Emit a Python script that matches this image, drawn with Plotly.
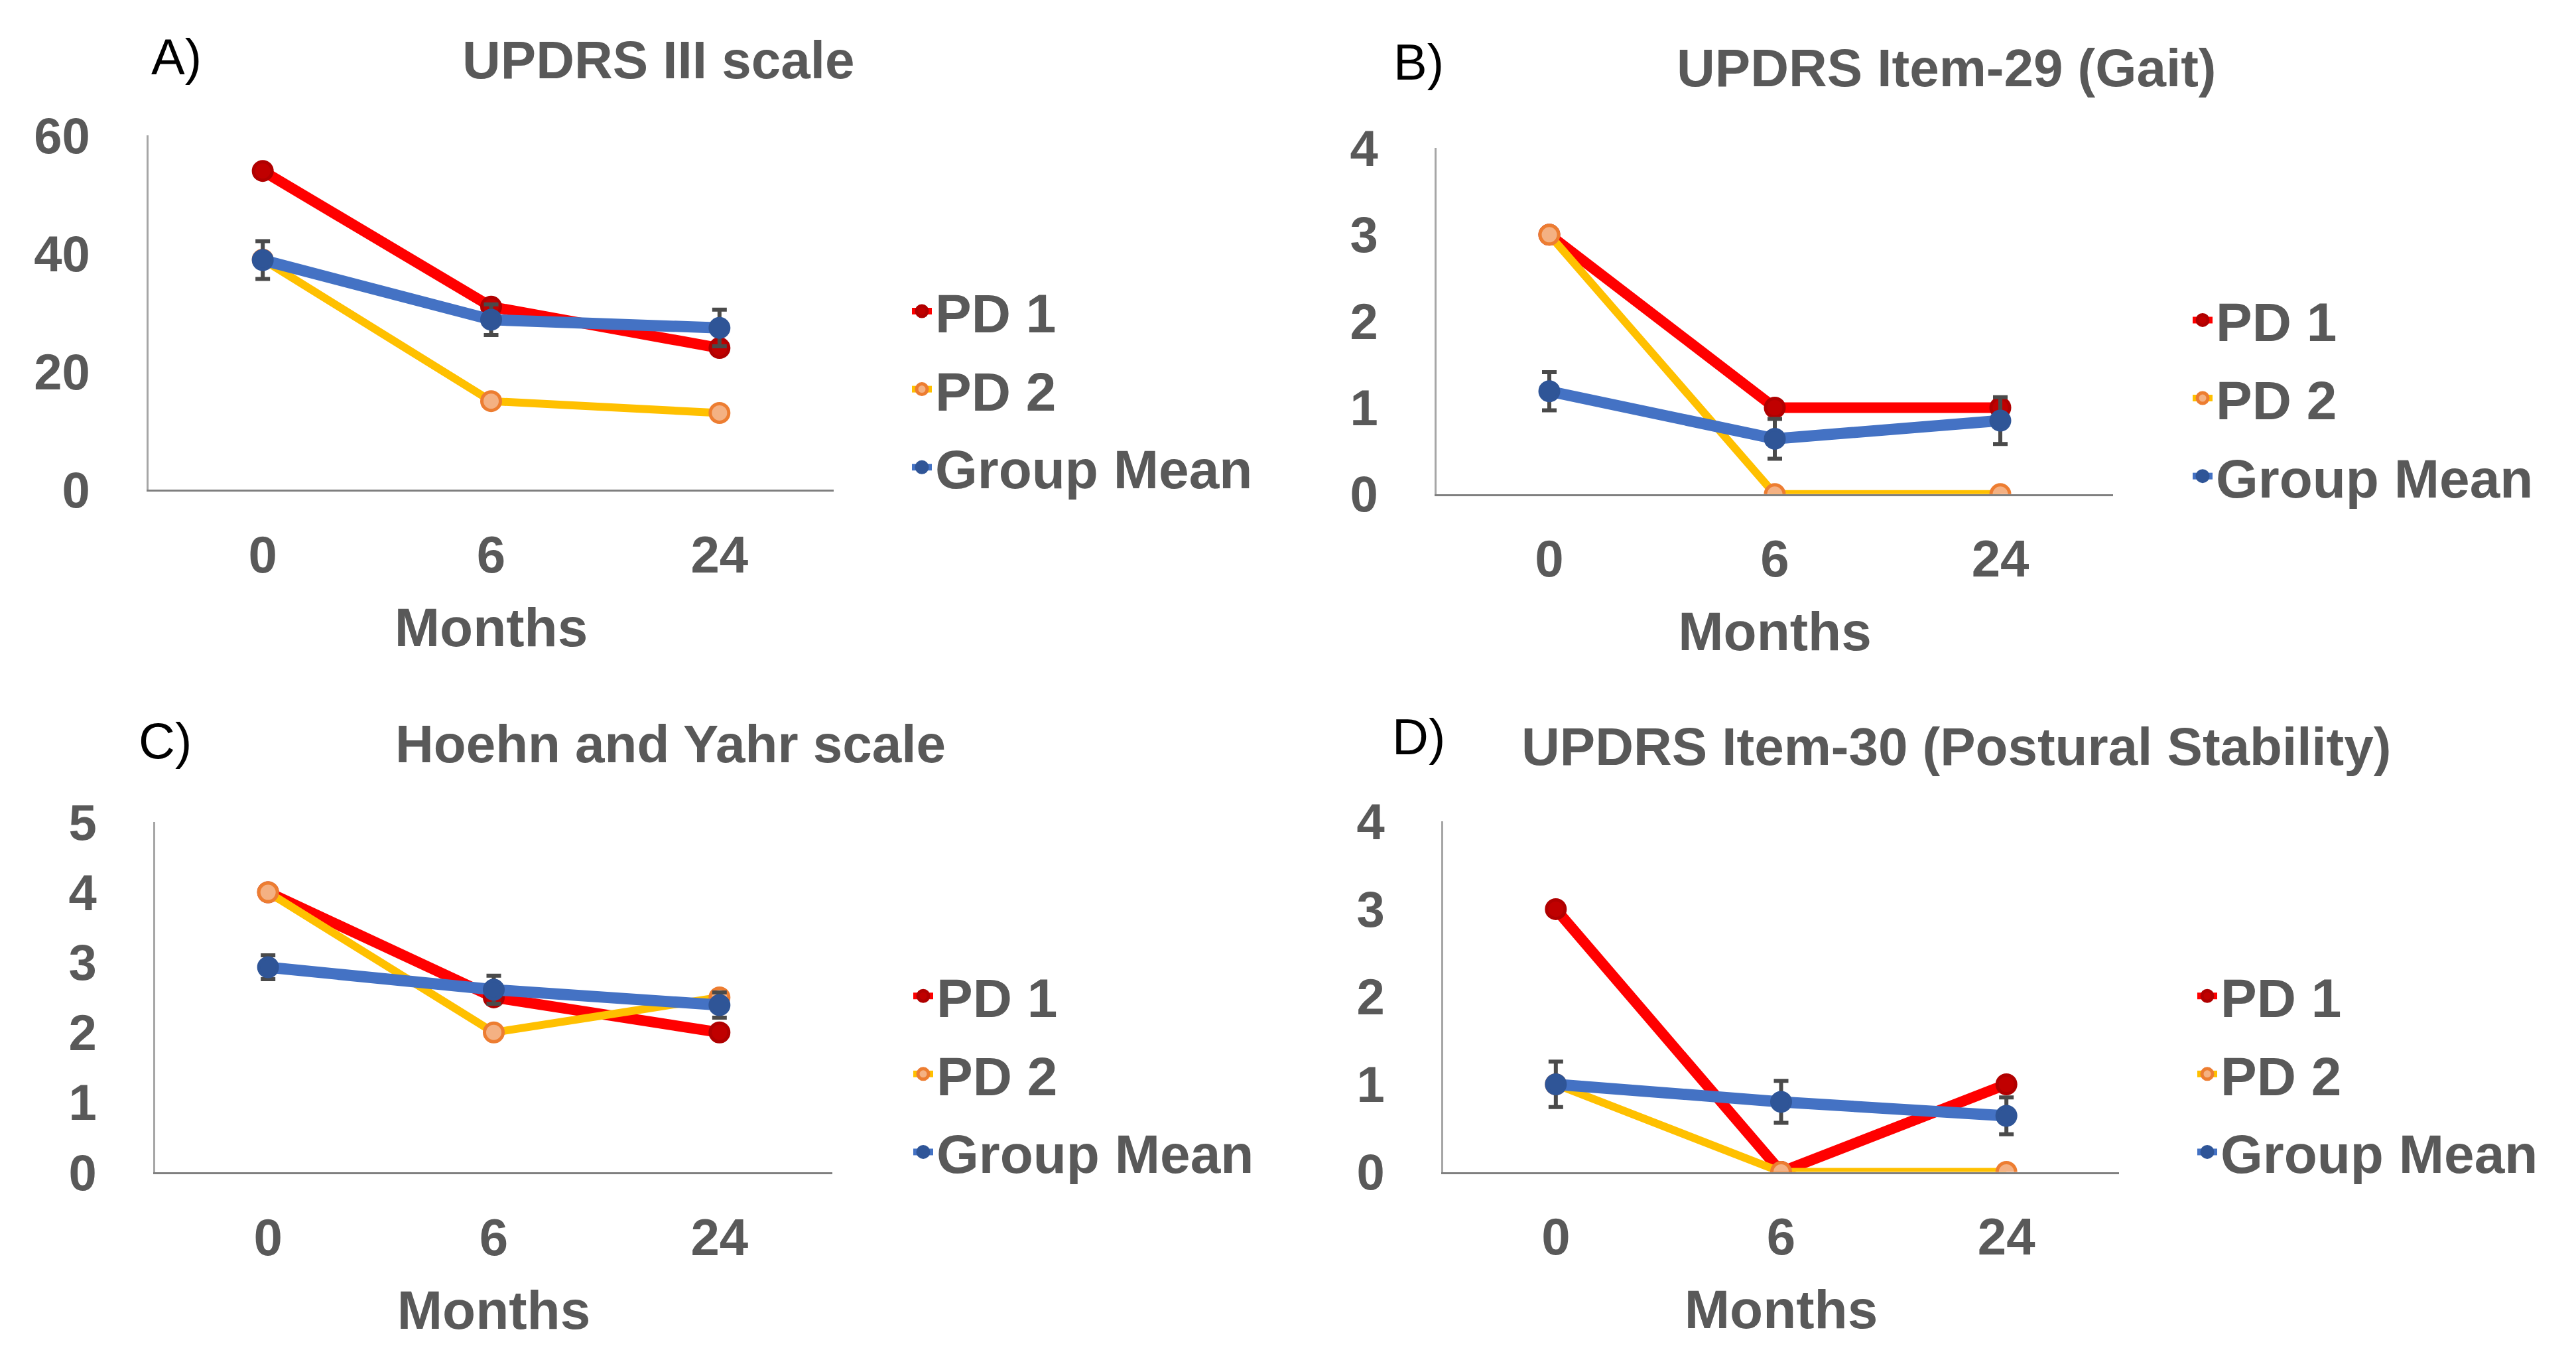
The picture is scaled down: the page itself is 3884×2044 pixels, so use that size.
import plotly.graph_objects as go

W, H = 3884, 2044

months = ["0", "6", "24"]
series_names = ["PD 1", "PD 2", "Group Mean"]

# Panel A: UPDRS III scale
a_pd1 = [54, 31, 24]
a_pd2 = [39, 15, 13]
a_mean = [38.9, 28.8, 27.4]
a_err = [3.2, 2.6, 3.1]

# Panel B: UPDRS Item-29 (Gait)
b_pd1 = [3, 1, 1]
b_pd2 = [3, 0, 0]
b_mean = [1.19, 0.64, 0.85]
b_err = [0.22, 0.23, 0.27]

# Panel C: Hoehn and Yahr scale
c_pd1 = [4, 2.5, 2]
c_pd2 = [4, 2, 2.5]
c_mean = [2.93, 2.61, 2.39]
c_err = [0.17, 0.2, 0.18]

# Panel D: UPDRS Item-30 (Postural Stability)
d_pd1 = [3, 0, 1]
d_pd2 = [1, 0, 0]
d_mean = [1.0, 0.8, 0.64]
d_err = [0.26, 0.24, 0.21]

panel_titles = ["UPDRS III scale", "UPDRS Item-29 (Gait)",
                "Hoehn and Yahr scale", "UPDRS Item-30 (Postural Stability)"]
panel_letters = ["A)", "B)", "C)", "D)"]
y_ranges = [[0, 60], [0, 4], [0, 5], [0, 4]]
y_dticks = [20, 1, 1, 1]

panels = [
    (a_pd1, a_pd2, a_mean, a_err),
    (b_pd1, b_pd2, b_mean, b_err),
    (c_pd1, c_pd2, c_mean, c_err),
    (d_pd1, d_pd2, d_mean, d_err),
]

# layout geometry (pixels)
x_doms = [(216, 1249), (2158, 3178), (226, 1247), (2168, 3187)]
y_doms = [(161, 718), (181, 725), (1241, 1792), (1240, 1791)]
title_pos = [(984, 42), (2926, 55), (1003, 1118), (2941, 1122)]
letter_pos = [(258, 37), (2131, 45), (241, 1113), (2131, 1106)]
legend_pos = [(1362, 560), (3293, 574), (1364, 1637), (3300, 1637)]

FONT = "Liberation Sans, Arial, sans-serif"
GRAY = "#595959"

line_colors = ["#FF0000", "#FFC000", "#4472C4"]
marker_colors = ["#C00000", "#F4B183", "#2F5597"]
marker_lines = ["#B00000", "#ED7D31", "#2F5597"]
line_widths = [16, 12, 17]

fig = go.Figure()

for i, (pd1, pd2, mean, err) in enumerate(panels):
    k = "" if i == 0 else str(i + 1)
    xa, ya = "x" + k, "y" + k
    leg = "legend" + k
    vals = [pd1, pd2, mean]
    for j, name in enumerate(series_names):
        kw = {}
        if j == 2:
            kw["error_y"] = dict(type="data", array=err, visible=True,
                                 color="#4A4A4A", thickness=6, width=11)
        fig.add_trace(go.Scatter(
            x=months, y=vals[j], name=name, mode="lines+markers",
            line=dict(color=line_colors[j], width=line_widths[j]),
            marker=dict(size=28, color=marker_colors[j],
                        line=dict(color=marker_lines[j], width=5)),
            xaxis=xa, yaxis=ya, legend=leg, legendgroup=f"p{i}s{j}",
            **kw))

    x0, x1 = x_doms[i]
    y0, y1 = y_doms[i]
    fig.update_layout({
        "xaxis" + k: dict(domain=[x0 / W, x1 / W], anchor=ya, type="category",
                          range=[-0.5, 2.5], showgrid=False, zeroline=False,
                          showline=True, linecolor="#7F7F7F", linewidth=3,
                          ticks="outside", ticklen=28, tickcolor="rgba(0,0,0,0)",
                          tickfont=dict(family=FONT, size=78, color=GRAY, weight="bold"),
                          title=dict(text="<b>Months</b>", standoff=38,
                                     font=dict(family=FONT, size=82, color=GRAY))),
        "yaxis" + k: dict(domain=[1 - y1 / H, 1 - y0 / H], anchor=xa,
                          range=y_ranges[i], dtick=y_dticks[i], showgrid=False,
                          zeroline=False, showline=True, linecolor="#A6A6A6",
                          linewidth=3, ticks="outside", ticklen=70,
                          tickcolor="rgba(0,0,0,0)",
                          tickfont=dict(family=FONT, size=76, color=GRAY, weight="bold")),
        leg: dict(x=legend_pos[i][0] / W, y=1 - legend_pos[i][1] / H,
                  xanchor="left", yanchor="middle", bgcolor="rgba(0,0,0,0)",
                  tracegroupgap=8,
                  font=dict(family=FONT, size=82, color=GRAY, weight="bold")),
    })
    fig.add_annotation(text="<b>" + panel_titles[i] + "</b>", xref="paper", yref="paper",
                       x=title_pos[i][0] / W, y=1 - title_pos[i][1] / H,
                       xanchor="center", yanchor="middle", showarrow=False,
                       font=dict(family=FONT, size=80, color=GRAY))
    fig.add_annotation(text=panel_letters[i], xref="paper", yref="paper",
                       x=letter_pos[i][0] / W, y=1 - letter_pos[i][1] / H,
                       xanchor="center", yanchor="middle", showarrow=False,
                       font=dict(family=FONT, size=76, color="#000000"))

fig.update_layout(width=W, height=H, margin=dict(l=0, r=0, t=0, b=0),
                  paper_bgcolor="white", plot_bgcolor="white", showlegend=True)

fig.write_html("out.html")
